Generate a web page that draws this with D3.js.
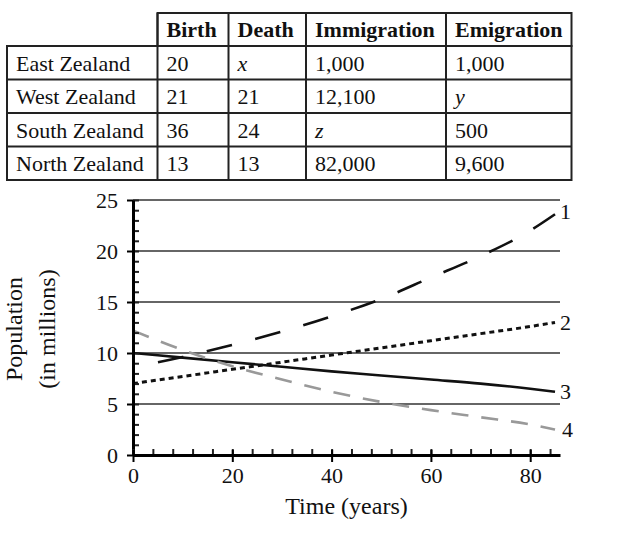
<!DOCTYPE html>
<html lang="en">
<head>
  <meta charset="UTF-8">
  <title>Zealand populations</title>
  <script src="https://cdn.jsdelivr.net/npm/d3@7"></script>
  <style>
    body { margin: 0; background: #fff; }
    svg { display: block; font-family: "Liberation Serif", "DejaVu Serif", serif; }
  </style>
</head>
<body>
<svg></svg>
<script>
  const width = 623, height = 534

  // table data
  const regions = ['East Zealand', 'West Zealand', 'South Zealand', 'North Zealand']
  const columns = ['Birth', 'Death', 'Immigration', 'Emigration']
  const birth = ['20', '21', '36', '13']
  const death = ['x', '21', '24', '13']
  const immigration = ['1,000', '12,100', 'z', '82,000']
  const emigration = ['1,000', 'y', '500', '9,600']

  // chart data
  const years = [0, 10, 20, 30, 40, 50, 60, 70, 80, 85]
  const line1 = [8.6, 9.6, 10.8, 12.1, 13.6, 15.3, 17.4, 19.5, 22.0, 23.6]
  const line2 = [7.0, 7.7, 8.4, 9.1, 9.8, 10.5, 11.2, 11.9, 12.6, 13.0]
  const line3 = [10.0, 9.55, 9.1, 8.65, 8.2, 7.8, 7.4, 7.0, 6.5, 6.2]
  const line4 = [12.2, 10.3, 8.7, 7.4, 6.2, 5.2, 4.4, 3.7, 3.0, 2.5]
  const seriesNames = ['1', '2', '3', '4']
  const yTicks = [0, 5, 10, 15, 20, 25]
  const xTicks = [0, 20, 40, 60, 80]

  const svg = d3.select('svg')
      .attr('width', width)
      .attr('height', height)
      .attr('viewBox', [0, 0, width, height])

  // ---- table ----
  const colX = [7, 157.5, 228.5, 306, 446, 571.5]
  const rowY = [13, 46, 79.5, 113, 146.5, 180]
  const table = svg.append('g').attr('font-size', 22).attr('fill', '#111')
  const cols = [birth, death, immigration, emigration]
  const bStroke = '#222', bWidth = 2

  // header box + body box
  table.append('rect')
      .attr('x', colX[1]).attr('y', rowY[0])
      .attr('width', colX[5] - colX[1]).attr('height', rowY[1] - rowY[0])
      .attr('fill', 'none').attr('stroke', bStroke).attr('stroke-width', bWidth)
  table.append('rect')
      .attr('x', colX[0]).attr('y', rowY[1])
      .attr('width', colX[5] - colX[0]).attr('height', rowY[5] - rowY[1])
      .attr('fill', 'none').attr('stroke', bStroke).attr('stroke-width', bWidth)
  table.selectAll('line.h')
      .data(rowY.slice(2, 5))
      .join('line')
      .attr('x1', colX[0]).attr('x2', colX[5])
      .attr('y1', d => d).attr('y2', d => d)
      .attr('stroke', bStroke).attr('stroke-width', bWidth)
  table.selectAll('line.v')
      .data(colX.slice(1, 5))
      .join('line')
      .attr('x1', d => d).attr('x2', d => d)
      .attr('y1', rowY[0]).attr('y2', rowY[5])
      .attr('stroke', bStroke).attr('stroke-width', bWidth)

  // header text
  table.selectAll('text.head')
      .data(columns)
      .join('text')
      .attr('x', (d, i) => colX[i + 1] + 9)
      .attr('y', rowY[0] + 24)
      .attr('font-weight', 'bold')
      .text(d => d)

  // body text
  regions.forEach((r, ri) => {
    const yy = rowY[ri + 1] + 24.5
    table.append('text').attr('x', colX[0] + 9).attr('y', yy).text(r)
    cols.forEach((c, ci) => {
      const v = c[ri]
      table.append('text')
          .attr('x', colX[ci + 1] + 9)
          .attr('y', yy)
          .attr('font-style', /^[a-z]$/.test(v) ? 'italic' : 'normal')
          .text(v)
    })
  })

  // ---- chart ----
  const margin = {top: 200, right: 63, bottom: 79, left: 133}
  const x = d3.scaleLinear()
      .domain([0, 86])
      .range([margin.left, width - margin.right])
  const y = d3.scaleLinear()
      .domain([0, 25])
      .range([height - margin.bottom, margin.top])

  // gridlines
  svg.append('g')
      .selectAll('line')
      .data(yTicks.slice(1))
      .join('line')
      .attr('x1', x(0)).attr('x2', x(86))
      .attr('y1', d => y(d)).attr('y2', d => y(d))
      .attr('stroke', '#666')
      .attr('stroke-width', 2)

  // lines
  const series = [line1, line2, line3, line4]
  const styles = [
    {stroke: '#111', width: 2.6, dash: [26, 24], endAnchored: true},
    {stroke: '#111', width: 3, dash: [5, 4]},
    {stroke: '#111', width: 2.6, dash: null},
    {stroke: '#999', width: 2.6, dash: [17, 13]}
  ]
  const line = d3.line()
      .curve(d3.curveMonotoneX)
      .x((d, i) => x(years[i]))
      .y(d => y(d))

  svg.append('g')
      .selectAll('path')
      .data(series)
      .join('path')
      .attr('d', d => line(d))
      .attr('fill', 'none')
      .attr('stroke', (d, i) => styles[i].stroke)
      .attr('stroke-width', (d, i) => styles[i].width)
      .attr('stroke-dasharray', (d, i) => styles[i].dash ? styles[i].dash.join(',') : null)
      .each(function (d, i) {
        // make the pattern finish on a full dash at the right end
        const s = styles[i]
        if (!s.endAnchored) return
        const L = this.getTotalLength()
        const P = s.dash[0] + s.dash[1]
        d3.select(this).attr('stroke-dashoffset', s.dash[0] - (L % P))
      })

  // line labels
  svg.append('g')
      .attr('font-size', 22)
      .attr('fill', '#111')
      .selectAll('text')
      .data(series)
      .join('text')
      .attr('x', (d, i) => x(years[years.length - 1]) + (i === 3 ? 7 : 5))
      .attr('y', (d, i) => y(d[d.length - 1]) + (i === 0 ? -3 : 0))
      .attr('dy', '0.35em')
      .text((d, i) => seriesNames[i])

  // y axis: minor ticks inside, major outside
  svg.append('g')
      .attr('transform', `translate(${x(0)},0)`)
      .call(d3.axisLeft(y).tickValues(d3.range(0, 26)).tickSize(-6).tickFormat(''))
      .call(g => g.select('.domain').remove())
      .call(g => g.selectAll('line').attr('stroke', '#222').attr('stroke-width', 2))

  svg.append('g')
      .attr('transform', `translate(${x(0)},0)`)
      .call(d3.axisLeft(y).tickValues(yTicks).tickSize(6).tickSizeOuter(0).tickPadding(9))
      .call(g => g.select('.domain').attr('stroke', '#000').attr('stroke-width', 3))
      .call(g => g.selectAll('line').attr('stroke', '#000').attr('stroke-width', 2))
      .call(g => g.selectAll('text').attr('font-size', 22).attr('fill', '#111')
          .attr('font-family', '"Liberation Serif", serif'))

  // x axis: minor ticks inside, major crossing
  svg.append('g')
      .attr('transform', `translate(0,${y(0)})`)
      .call(d3.axisBottom(x).tickValues(d3.range(0, 86, 4)).tickSize(-6).tickFormat(''))
      .call(g => g.select('.domain').remove())
      .call(g => g.selectAll('line').attr('stroke', '#222').attr('stroke-width', 2))

  svg.append('g')
      .attr('transform', `translate(0,${y(0)})`)
      .call(d3.axisBottom(x).tickValues(xTicks).tickSize(7).tickSizeOuter(0).tickPadding(5))
      .call(g => g.select('.domain').attr('stroke', '#000').attr('stroke-width', 3))
      .call(g => g.selectAll('line').attr('y1', -5).attr('stroke', '#000').attr('stroke-width', 2))
      .call(g => g.selectAll('text').attr('font-size', 22).attr('fill', '#111')
          .attr('font-family', '"Liberation Serif", serif'))

  // axis titles
  svg.append('text')
      .attr('x', (x(0) + x(86)) / 2)
      .attr('y', 514)
      .attr('text-anchor', 'middle')
      .attr('font-size', 24)
      .attr('fill', '#111')
      .text('Time (years)')

  const yTitle = svg.append('text')
      .attr('transform', `translate(22,329) rotate(-90)`)
      .attr('text-anchor', 'middle')
      .attr('font-size', 24)
      .attr('fill', '#111')
  yTitle.append('tspan').attr('x', 0).attr('dy', 0).text('Population')
  yTitle.append('tspan').attr('x', 0).attr('dy', 33).text('(in millions)')
</script>
</body>
</html>
